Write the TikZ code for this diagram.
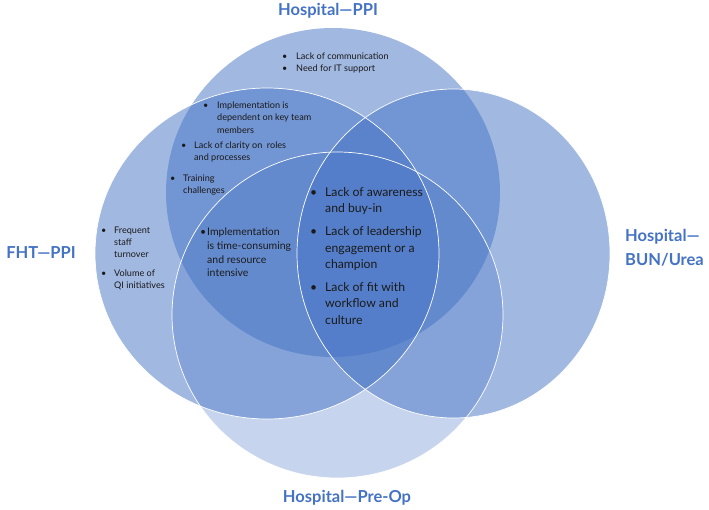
\documentclass[tikz,border=0pt]{standalone}
\usepackage{fontspec}
\setmainfont{Lato}
\definecolor{vblue}{HTML}{4472C4}
\definecolor{vtext}{HTML}{1A1A1A}
\begin{document}
\begin{tikzpicture}[x=1pt,y=-1pt,
  circ/.style={fill=vblue,fill opacity=0.5},
  circlight/.style={fill=vblue,fill opacity=0.3},
  rim/.style={draw=white,line width=0.7pt},
  title/.style={font=\fontsize{16.5}{19}\selectfont\bfseries,text=vblue,inner sep=0pt},
  tx/.style={anchor=base west,inner sep=0pt,text=vtext},
  small/.style={tx,font=\fontsize{9.1}{11}\selectfont},
  mid/.style={tx,font=\fontsize{10.5}{12}\selectfont},
  big/.style={tx,font=\fontsize{12.2}{14}\selectfont}]
\useasboundingbox (0,0) rectangle (709,509);
% circles
\fill[circ] (333,192.5) ellipse [x radius=167pt,y radius=164.5pt];
\fill[circ] (267,253.5) ellipse [x radius=172pt,y radius=165.5pt];
\fill[circ] (453.5,253.5) ellipse [x radius=156.5pt,y radius=164.5pt];
\fill[circlight] (337.5,315) ellipse [x radius=165.5pt,y radius=163pt];
\draw[rim] (267,253.5) ellipse [x radius=172pt,y radius=165.5pt];
\draw[rim] (453.5,253.5) ellipse [x radius=156.5pt,y radius=164.5pt];
\draw[rim] (337.5,315) ellipse [x radius=165.5pt,y radius=163pt];
% titles
\node[title] (tPPI) at (328,11) {Hospital—PPI};
\node[title] (tFHT) at (41,253) {FHT—PPI};
\node[title,anchor=west] (tBUN1) at (625,237) {Hospital—};
\node[title,anchor=west] (tBUN2) at (625,260) {BUN/Urea};
\node[title] (tPre) at (347,498) {Hospital—Pre-Op};
% top only
\node[small] (b1) at (282,59) {•};
\node[small] (l1) at (296,59) {Lack of communication};
\node[small] (b2) at (282,71) {•};
\node[small] (l2) at (296,71) {Need for IT support};
% top-left
\node[small] (b3) at (203,108) {•};
\node[small] (l3a) at (217,108) {Implementation is};
\node[small] (l3b) at (217,120) {dependent on key team};
\node[small] (l3c) at (217,133) {members};
\node[small] (b4) at (181,148) {•};
\node[small] (l4a) at (194,148) {Lack of clarity on\ \ roles};
\node[small] (l4b) at (194,160) {and processes};
\node[small] (b5) at (170,181) {•};
\node[small] (l5a) at (183,181) {Training};
\node[small] (l5b) at (183,193) {challenges};
% left only
\node[small] (b6) at (101,233) {•};
\node[small] (l6a) at (114,233) {Frequent};
\node[small] (l6b) at (114,245) {staff};
\node[small] (l6c) at (114,257) {turnover};
\node[small] (b7) at (101,276) {•};
\node[small] (l7a) at (114,276) {Volume of};
\node[small] (l7b) at (114,288) {QI initiatives};
% left-top-bottom
\node[mid] (b8) at (200,235) {•};
\node[mid] (l8a) at (207,235) {Implementation};
\node[mid] (l8b) at (207,249) {is time-consuming};
\node[mid] (l8c) at (207,263) {and resource};
\node[mid] (l8d) at (207,276) {intensive};
% centre
\node[big] (b9) at (310,196) {•};
\node[big] (l9a) at (325,196) {Lack of awareness};
\node[big] (l9b) at (325,212) {and buy-in};
\node[big] (b10) at (310,235) {•};
\node[big] (l10a) at (325,235) {Lack of leadership};
\node[big] (l10b) at (325,252) {engagement or a};
\node[big] (l10c) at (325,268) {champion};
\node[big] (b11) at (310,291) {•};
\node[big] (l11a) at (325,291) {Lack of fit with};
\node[big] (l11b) at (325,307) {workflow and};
\node[big] (l11c) at (325,324) {culture};
\end{tikzpicture}
\end{document}
